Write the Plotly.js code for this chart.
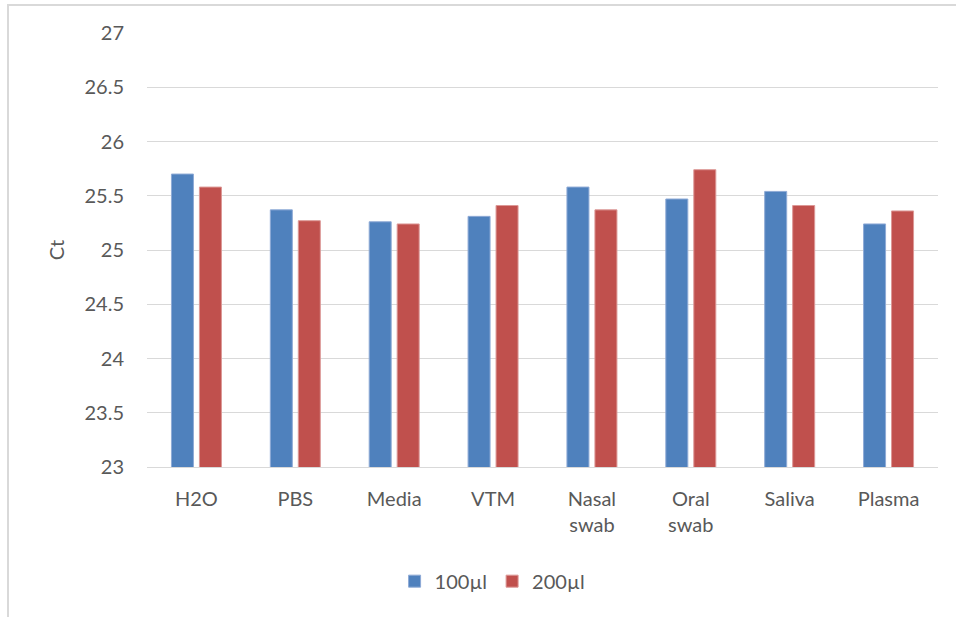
<!DOCTYPE html>
<html>
<head>
<meta charset="utf-8">
<script src="https://cdn.plot.ly/plotly-3.0.1.min.js"></script>
<style>
  html, body { margin: 0; padding: 0; background: #fff; }
  #wrap { position: relative; width: 956px; height: 617px; }
  #chart { width: 956px; height: 617px; }
  #frame { position: absolute; left: 7px; top: 4px; width: 949px; height: 613px;
           border-left: 2px solid #d9d9d9; border-top: 2px solid #d9d9d9;
           box-sizing: border-box; pointer-events: none; }
</style>
</head>
<body>
<div id="wrap">
  <div id="chart"></div>
  <div id="frame"></div>
</div>
<script>
const categories = ["H2O", "PBS", "Media", "VTM", "Nasal<br>swab", "Oral<br>swab", "Saliva", "Plasma"];
const series100 = [25.70, 25.37, 25.26, 25.31, 25.58, 25.47, 25.54, 25.24];
const series200 = [25.58, 25.27, 25.24, 25.41, 25.37, 25.74, 25.41, 25.36];
const seriesNames = ["100µl", "200µl"];
const yTicks = [23, 23.5, 24, 24.5, 25, 25.5, 26, 26.5, 27];

const font = { family: "Lato, 'Open Sans', sans-serif", size: 20, color: "#595959" };

const traces = [
  { type: "bar", name: seriesNames[0], x: categories, y: series100,
    marker: { color: "#4F81BD", line: { color: "#8eaad6", width: 1 } }, hoverinfo: "x+y" },
  { type: "bar", name: seriesNames[1], x: categories, y: series200,
    marker: { color: "#C0504D", line: { color: "#dc9896", width: 1 } }, hoverinfo: "x+y" }
];

const layout = {
  width: 956, height: 617,
  margin: { l: 147, r: 18, t: 33, b: 150, pad: 0 },
  paper_bgcolor: "#fff", plot_bgcolor: "#fff",
  font: font,
  barmode: "group",
  bargap: 0.434,
  bargroupgap: 0.214,
  showlegend: true,
  legend: {
    orientation: "h",
    x: 0.313, xanchor: "left",
    y: -0.263, yanchor: "middle",
    font: font,
    itemwidth: 30,
    tracegroupgap: 0
  },
  xaxis: {
    type: "category",
    showgrid: false,
    showline: true, linecolor: "#d9d9d9", linewidth: 1,
    ticks: "", tickfont: font,
    ticklabelstandoff: 14,
    fixedrange: true
  },
  yaxis: {
    range: [23, 27],
    tickvals: yTicks,
    ticktext: yTicks.map(v => String(v)),
    showgrid: true, gridcolor: "#d9d9d9", gridwidth: 1,
    zeroline: false, showline: false,
    ticks: "", tickfont: font,
    ticklabelstandoff: 22,
    title: { text: "Ct", font: font, standoff: 14 },
    fixedrange: true
  }
};

Plotly.newPlot("chart", traces, layout, { displayModeBar: false, staticPlot: true });
</script>
</body>
</html>
